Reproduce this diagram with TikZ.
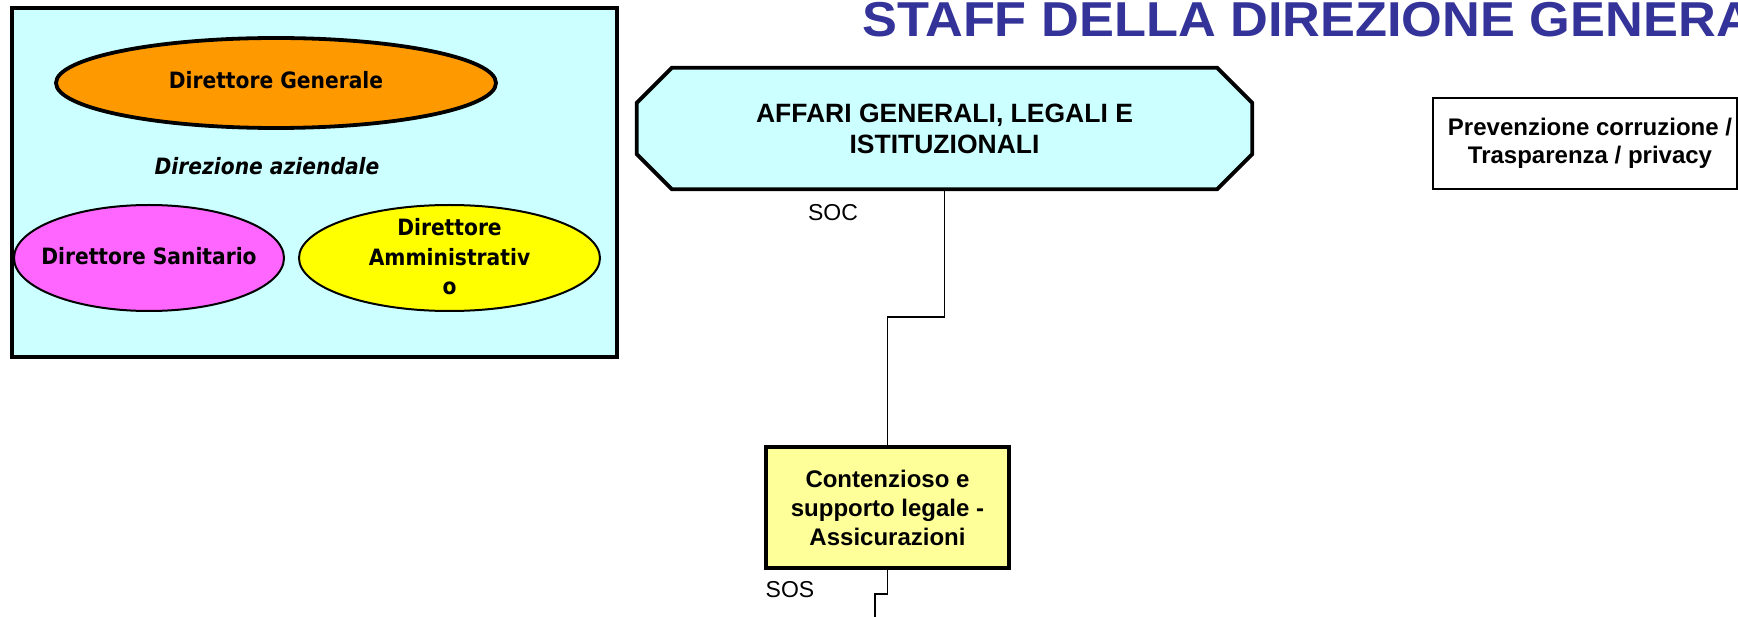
\documentclass[tikz,border=0pt]{standalone}
\usepackage{fontspec}
\setmainfont{Liberation Sans}
\newfontfamily\dvs{DejaVu Sans}[FakeStretch=0.9]
\usetikzlibrary{shapes.geometric}
\definecolor{cyanfill}{HTML}{CCFFFF}
\definecolor{dgorange}{HTML}{FF9900}
\definecolor{dsmagenta}{HTML}{FF66FF}
\definecolor{dayellow}{HTML}{FFFF00}
\definecolor{boxyellow}{HTML}{FFFF99}
\definecolor{titleblue}{HTML}{333399}
\pgfdeclarelayer{back}
\pgfdeclarelayer{bg}
\pgfsetlayers{back,bg,main}
\tikzset{
  ellnode/.style={ellipse, draw, inner sep=0pt},
  elltext/.style={inner sep=0pt, align=center,
    font=\dvs\bfseries\fontsize{22.5}{29.5}\selectfont},
  unitbox/.style={draw, inner sep=0pt, align=center},
  conn/.style={line width=1.6pt},
  lvl/.style={inner sep=0pt, font=\fontsize{23}{23}\selectfont}
}
\begin{document}
\begin{tikzpicture}[x=1pt,y=-1pt]
\useasboundingbox (0,0) rectangle (1738,617);
\clip (0,0) rectangle (1738,617);
\begin{pgfonlayer}{back}
\fill[white] (0,0) rectangle (1738,617);
\end{pgfonlayer}

% Direzione aziendale box
\node[draw, line width=3.5pt, fill=cyanfill, minimum width=605, minimum height=349, inner sep=0pt] (dirbox) at (314.5,182.5) {};
\node[ellnode, line width=3.8pt, fill=dgorange, minimum width=440, minimum height=90] (dg) at (276,83) {};
\node[elltext] (dgtext) at (276,80) {Direttore Generale};
\node[inner sep=0pt, font=\dvs\bfseries\itshape\fontsize{22.5}{24}\selectfont] (dirlabel) at (267,166) {Direzione aziendale};
\node[ellnode, line width=2pt, fill=dsmagenta, minimum width=270, minimum height=106] (ds) at (149,258) {};
\node[elltext] (dstext) at (149,256) {Direttore Sanitario};
\node[ellnode, line width=2pt, fill=dayellow, minimum width=301, minimum height=106] (da) at (449.5,258) {};
\node[elltext] (datext) at (449.5,257) {Direttore\\Amministrativ\\o};

% Title
\node[anchor=base west, inner sep=0pt, text=titleblue, font=\bfseries\fontsize{49}{49}\selectfont] (title) at (862,37) {\scalebox{1.068}[1]{STAFF DELLA DIREZIONE GENERALE}};

% Affari generali octagon
\node[minimum width=615, minimum height=121, inner sep=0pt, align=center, font=\bfseries\fontsize{26.5}{31}\selectfont] (affari) at (944.5,128.5) {AFFARI GENERALI, LEGALI E\\ISTITUZIONALI};
\begin{pgfonlayer}{bg}
\draw[line width=3.8pt, fill=cyanfill, line join=miter]
  ([xshift=35pt]affari.north west) -- ([xshift=-35pt]affari.north east)
  -- ([yshift=-35pt]affari.north east) -- ([yshift=35pt]affari.south east)
  -- ([xshift=-35pt]affari.south east) -- ([xshift=35pt]affari.south west)
  -- ([yshift=35pt]affari.south west) -- ([yshift=-35pt]affari.north west) -- cycle;
\end{pgfonlayer}
\node[lvl] (soc) at (833,213) {SOC};

% Prevenzione box
\node[unitbox, line width=2pt, fill=white, minimum width=304, minimum height=91, font=\bfseries\fontsize{24}{28}\selectfont] (prev) at (1585,143.5) {\hspace*{10pt}Prevenzione corruzione /\\\hspace*{10pt}Trasparenza / privacy};

% Contenzioso box
\node[unitbox, line width=3.5pt, fill=boxyellow, minimum width=243, minimum height=121, font=\bfseries\fontsize{24}{29}\selectfont] (cont) at (887.5,507.5) {Contenzioso e\\supporto legale -\\Assicurazioni};
\node[lvl] (sos) at (790,590) {SOS};

% Connectors
\coordinate (c1) at (887.5,317);
\coordinate (c2) at (875,594);
\coordinate (c3) at (875,625);
\draw[conn] (affari.south) |- (c1) -- (cont.north);
\draw[conn] (cont.south) |- (c2) -- (c3);
\end{tikzpicture}
\end{document}
